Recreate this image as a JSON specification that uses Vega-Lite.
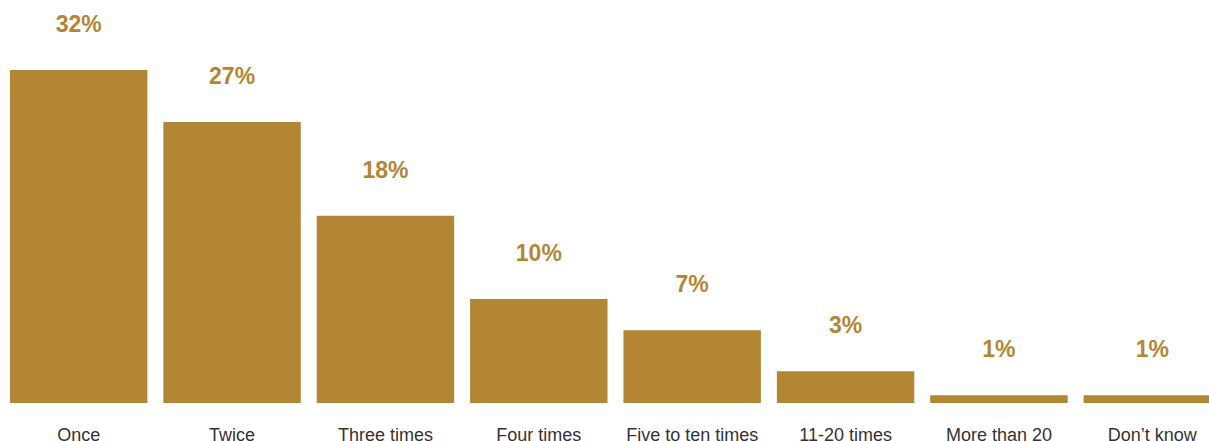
{
  "$schema": "https://vega.github.io/schema/vega-lite/v6.json",
  "width": 1209,
  "height": 403,
  "autosize": {"type": "none"},
  "padding": {"left": 0, "top": 0, "right": 0, "bottom": 38},
  "background": "white",
  "config": {"view": {"stroke": null}},
  "data": {
    "values": [
      {"category": "Once", "value": 32, "label": "32%"},
      {"category": "Twice", "value": 27, "label": "27%"},
      {"category": "Three times", "value": 18, "label": "18%"},
      {"category": "Four times", "value": 10, "label": "10%"},
      {"category": "Five to ten times", "value": 7, "label": "7%"},
      {"category": "11-20 times", "value": 3.05, "label": "3%"},
      {"category": "More than 20", "value": 0.75, "label": "1%"},
      {"category": "Don’t know", "value": 0.75, "label": "1%"}
    ]
  },
  "encoding": {
    "x": {
      "field": "category",
      "type": "nominal",
      "sort": null,
      "scale": {"range": [0, 1231], "paddingInner": 0.104, "paddingOuter": 0.065},
      "axis": {
        "title": null,
        "domain": false,
        "ticks": false,
        "tickSize": 0,
        "labelAngle": 0,
        "labelPadding": 23,
        "labelFont": "Liberation Sans",
        "labelFontSize": 18,
        "labelColor": "#333333",
        "labelOverlap": false,
        "grid": false
      }
    },
    "y": {
      "field": "value",
      "type": "quantitative",
      "scale": {"domain": [0, 38.73], "nice": false, "zero": true},
      "axis": null
    }
  },
  "layer": [
    {"mark": {"type": "bar", "color": "#b38635", "cornerRadius": 0}},
    {
      "mark": {
        "type": "text",
        "baseline": "alphabetic",
        "dy": -38,
        "font": "Liberation Sans",
        "fontSize": 23,
        "fontWeight": "bold",
        "color": "#b38635"
      },
      "encoding": {"text": {"field": "label"}}
    }
  ]
}
